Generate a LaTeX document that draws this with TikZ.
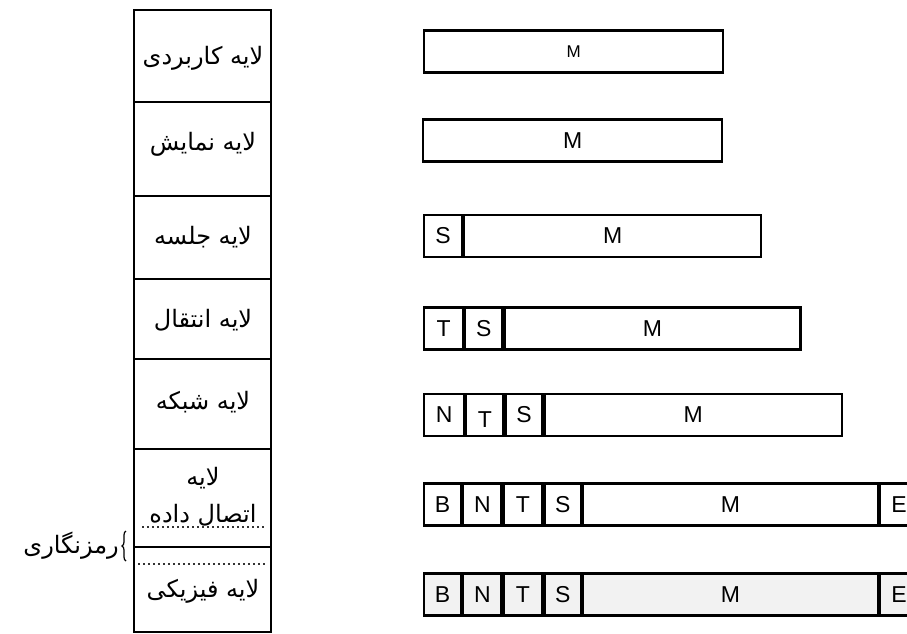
\documentclass[tikz,border=0pt]{standalone}
\usepackage{fontspec}
\setmainfont{Liberation Sans}
\newfontfamily\arabicfont[Script=Arabic]{DejaVu Sans}
\TeXXeTstate=1
\usetikzlibrary{decorations.pathreplacing}
\newcommand{\fa}[1]{{\arabicfont\beginR #1\endR}}
\begin{document}
\begin{tikzpicture}[x=1pt,y=-1pt,
  cell/.style={draw, line width=2.2pt, minimum width=137pt, inner sep=0pt, anchor=center},
  lbl/.style={font=\fontsize{24}{28}\selectfont, inner sep=0pt, align=center},
  fld/.style={draw, line width=2.2pt, minimum height=42pt, inner sep=0pt, anchor=west,
              font=\fontsize{23}{26}\selectfont},
  dotline/.style={line width=1.2pt, dash pattern=on 1.5pt off 3.5pt, black!80},
  shade/.style={fill=black!5}]
\useasboundingbox (0,0) rectangle (907,634);
% left column of layers
\node[cell, minimum height=92pt] (c1) at (202.5,56) {};
\node[cell, minimum height=94pt] (c2) at (202.5,149) {};
\node[cell, minimum height=83pt] (c3) at (202.5,237.5) {};
\node[cell, minimum height=80pt] (c4) at (202.5,319) {};
\node[cell, minimum height=90pt] (c5) at (202.5,404) {};
\node[cell, minimum height=98pt] (c6) at (202.5,498) {};
\node[cell, minimum height=85pt] (c7) at (202.5,589.5) {};
\node[lbl] (t1) at (203,58) {\fa{لایه کاربردی}};
\node[lbl] (t2) at (203,144) {\fa{لایه نمایش}};
\node[lbl] (t3) at (203,237) {\fa{لایه جلسه}};
\node[lbl] (t4) at (203,320) {\fa{لایه انتقال}};
\node[lbl] (t5) at (203,402) {\fa{لایه شبکه}};
\node[lbl] (t6a) at (203,478) {\fa{لایه}};
\node[lbl] (t6b) at (203,515) {\fa{اتصال داده}};
\node[lbl] (t7) at (203,591) {\fa{لایه فیزیکی}};
\coordinate (d1a) at (142,527); \coordinate (d1b) at (266,527);
\coordinate (d2a) at (138,564); \coordinate (d2b) at (266,564);
\draw[dotline] (d1a) -- (d1b);
\draw[dotline] (d2a) -- (d2b);
% brace and label
\coordinate (bb) at (126,561); \coordinate (bt) at (126,531);
\draw[line width=1.2pt, decorate, decoration={brace, amplitude=4pt}] (bb) -- (bt);
\node[lbl, anchor=east] (enc) at (119,546) {\fa{رمزنگاری}};
% row 1
\node[fld, minimum width=299pt] (r1m) at (423,51.5) {\fontsize{17}{20}\selectfont M};
% row 2
\node[fld, minimum width=299pt] (r2m) at (422,140.5) {M};
% row 3
\node[fld, minimum width=38pt] (r3s) at (423,236) {S};
\node[fld, minimum width=297pt] (r3m) at (r3s.east) {M};
% row 4
\node[fld, minimum width=39pt] (r4t) at (423,328.5) {T};
\node[fld, minimum width=37pt] (r4s) at (r4t.east) {S};
\node[fld, minimum width=296pt] (r4m) at (r4s.east) {M};
% row 5
\node[fld, minimum width=40pt] (r5n) at (423,415) {N};
\node[fld, minimum width=37pt] (r5t) at (r5n.east) {\raisebox{-5pt}[\height][0pt]{T}};
\node[fld, minimum width=37pt] (r5s) at (r5t.east) {S};
\node[fld, minimum width=297pt] (r5m) at (r5s.east) {M};
% row 6
\node[fld, minimum width=37pt] (r6b) at (423,504.5) {B};
\node[fld, minimum width=38pt] (r6n) at (r6b.east) {N};
\node[fld, minimum width=39pt] (r6t) at (r6n.east) {T};
\node[fld, minimum width=36pt] (r6s) at (r6t.east) {S};
\node[fld, minimum width=295pt] (r6m) at (r6s.east) {M};
\node[fld, minimum width=38pt] (r6e) at (r6m.east) {E};
% row 7 (stippled)
\node[fld, shade, minimum width=37pt] (r7b) at (423,594.5) {B};
\node[fld, shade, minimum width=38pt] (r7n) at (r7b.east) {N};
\node[fld, shade, minimum width=39pt] (r7t) at (r7n.east) {T};
\node[fld, shade, minimum width=36pt] (r7s) at (r7t.east) {S};
\node[fld, shade, minimum width=295pt] (r7m) at (r7s.east) {M};
\node[fld, shade, minimum width=38pt] (r7e) at (r7m.east) {E};
\end{tikzpicture}
\end{document}
